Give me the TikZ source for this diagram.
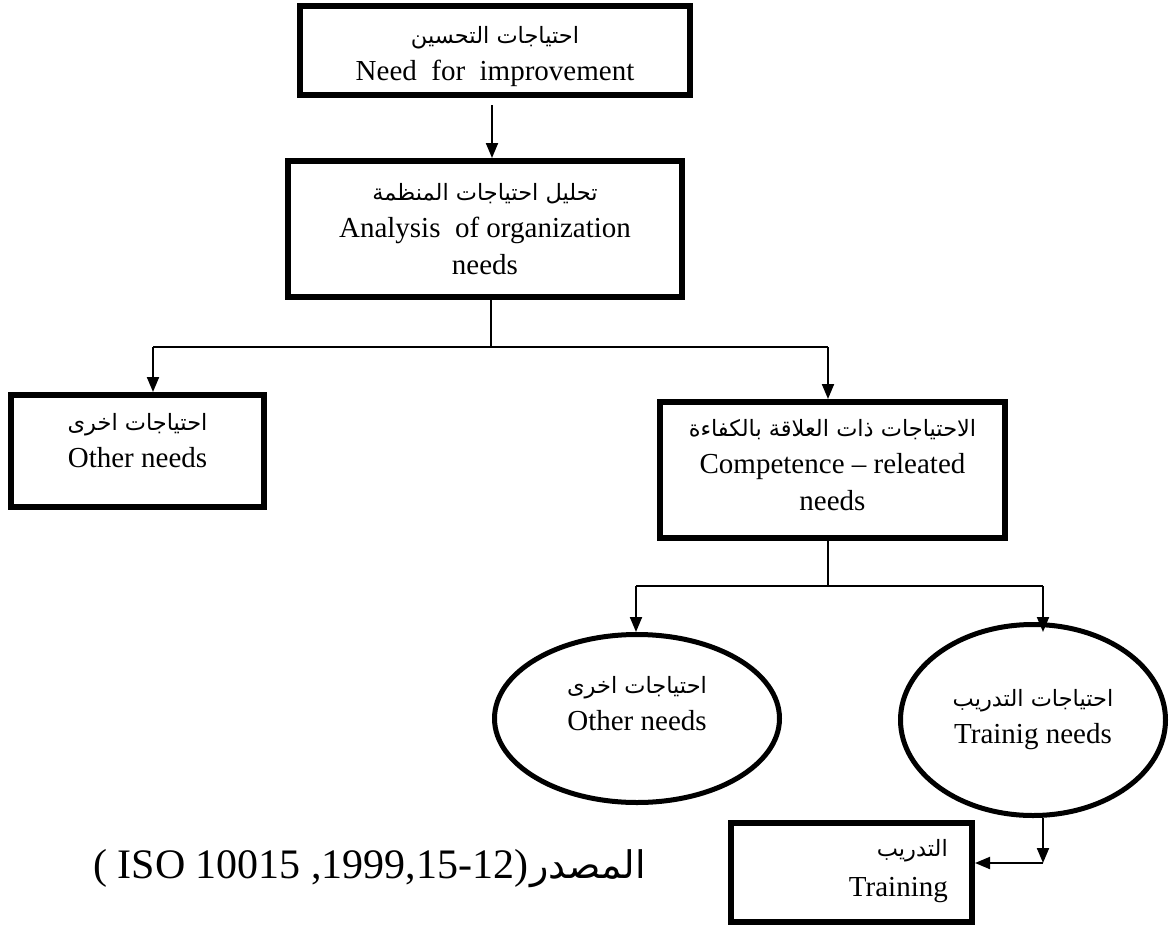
\documentclass[tikz,border=0pt]{standalone}
\usepackage{fontspec}
\setmainfont{Liberation Serif}
\newfontfamily\arabicfont[Script=Arabic]{DejaVu Sans}
\TeXXeTstate=1
\usetikzlibrary{arrows.meta,shapes.geometric}
\newcommand\artxt[1]{{\arabicfont\fontsize{22.5}{36}\selectfont\beginR #1\endR}}
\begin{document}
\begin{tikzpicture}[x=1pt,y=-1pt]
\tikzset{
  box/.style={draw, rectangle, line width=6pt, inner sep=0pt},
  oval/.style={draw, ellipse, line width=5pt, inner sep=0pt},
  txt/.style={align=center, inner sep=0pt, font=\fontsize{29}{37}\selectfont},
  conn/.style={line width=2pt},
  arr/.style={conn, -{Triangle[length=15pt,width=12pt]}}
}
\useasboundingbox (0,0) rectangle (1176,926);
% boxes
\node[box, minimum width=390pt, minimum height=89pt] (b1) at (495,50.5) {};
\node[box, minimum width=394pt, minimum height=136pt] (b2) at (485,229) {};
\node[box, minimum width=253pt, minimum height=112pt] (b3) at (137.5,451) {};
\node[box, minimum width=345pt, minimum height=136pt] (b4) at (832.5,470) {};
\node[oval, minimum width=285pt, minimum height=168pt] (e1) at (637,718.5) {};
\node[oval, minimum width=265pt, minimum height=191pt] (e2) at (1033,720) {};
\node[box, minimum width=241pt, minimum height=99pt] (b5) at (851.5,872.5) {};
% texts
\node[txt] (t1) at (495,57) {\artxt{احتياجات التحسين}\\Need\ \ for\ \ improvement};
\node[txt] (t2) at (485,229) {\artxt{تحليل احتياجات المنظمة}\\Analysis\ \ of organization\\needs};
\node[txt] (t3) at (137.5,441) {\artxt{احتياجات اخرى}\\Other needs};
\node[txt] (t4) at (832.5,465) {\artxt{الاحتياجات ذات العلاقة بالكفاءة}\\Competence -- releated\\needs};
\node[txt] (t5) at (637,704) {\artxt{احتياجات اخرى}\\Other needs};
\node[txt] (t6) at (1033,720) {\artxt{احتياجات التدريب}\\Trainig needs};
\node[txt, align=right, anchor=east, font=\fontsize{29}{40}\selectfont] (t7) at (948,871) {\artxt{التدريب}\\Training};
\node[inner sep=0pt, anchor=base west] (src) at (93,878)
  {\fontsize{42}{50}\selectfont ( ISO 10015 ,1999,15-12)\kern2pt{\arabicfont\fontsize{38}{46}\selectfont\beginR المصدر\endR}};
% connectors
\coordinate (x1) at (492,0);
\coordinate (x2) at (491,0);
\coordinate (y0) at (0,105);
\coordinate (y1) at (0,347);
\coordinate (y2) at (0,586);
\coordinate (xl) at (153,0);
\coordinate (xr) at (828,0);
\coordinate (xe1) at (636,0);
\coordinate (xe2) at (1043,0);
\coordinate (ye) at (0,863);
\draw[arr] (x1 |- y0) -- (b2.north -| x1);
\draw[conn] (b2.south -| x2) -- (x2 |- y1);
\draw[conn] (xl |- y1) -- (xr |- y1);
\draw[arr] (xl |- y1) -- (b3.north -| xl);
\draw[arr] (xr |- y1) -- (b4.north -| xr);
\draw[conn] (b4.south -| xr) -- (xr |- y2);
\draw[conn] (xe1 |- y2) -- (xe2 |- y2);
\draw[arr] (xe1 |- y2) -- (e1.north -| xe1);
\draw[arr] (xe2 |- y2) -- ([yshift=-10pt]e2.north -| xe2);
\draw[arr] (e2.south -| xe2) -- (xe2 |- ye);
\draw[arr] (xe2 |- ye) -- (b5.east |- ye);
\end{tikzpicture}
\end{document}
